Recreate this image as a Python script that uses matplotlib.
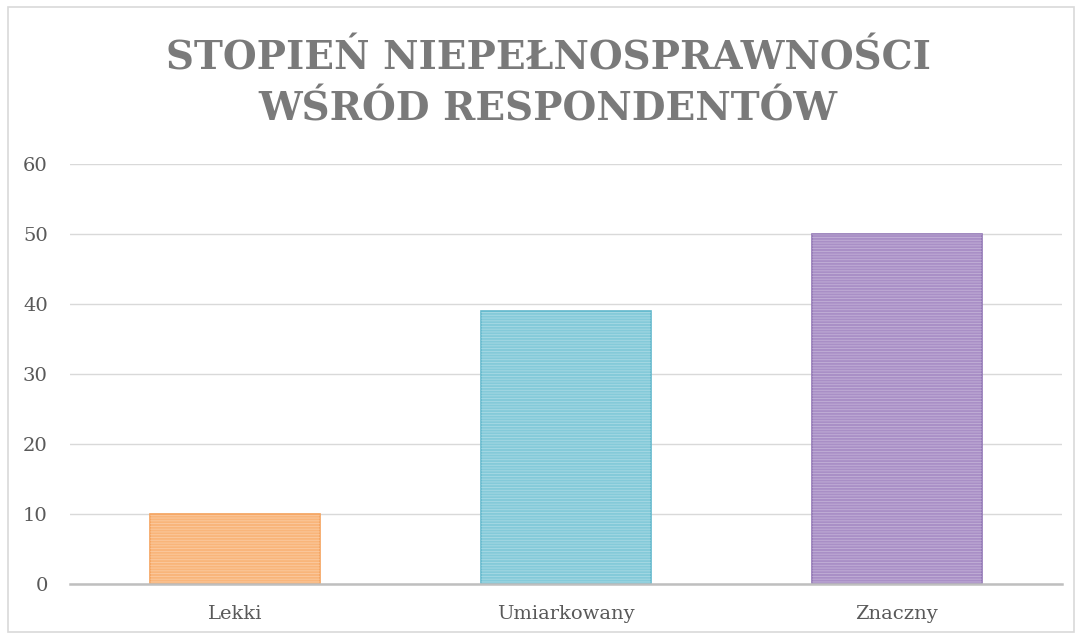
import matplotlib.pyplot as plt
import numpy as np

categories = ["Lekki", "Umiarkowany", "Znaczny"]
values = [10, 39, 50]
colors = ["#F9B57A", "#84CAD9", "#A98FC6"]
edges = ["#F5A25C", "#62B8CC", "#9176B5"]
y_ticks = [0, 10, 20, 30, 40, 50, 60]

fig = plt.figure(figsize=(10.81, 6.37), dpi=100)
ax = fig.add_axes([70 / 1081, 1 - 584 / 637, (1062 - 70) / 1081, (584 - 164) / 637])

plt.rcParams['hatch.linewidth'] = 0.6
plt.rcParams['hatch.color'] = "#ffffff"
x = np.arange(len(categories))
for i in range(len(categories)):
    ax.bar(x[i], values[i], width=0.515, color=colors[i], edgecolor=edges[i],
           linewidth=1.2, zorder=3)
    ax.bar(x[i], values[i], width=0.515, color="none", edgecolor=(1, 1, 1, 0.3),
           hatch="-" * 6, linewidth=0, zorder=4)

ax.set_xlim(-0.5, len(categories) - 0.5)
ax.set_ylim(0, 60)
ax.set_yticks(y_ticks)
ax.set_xticks(x)
ax.set_xticklabels(categories)
ax.grid(axis="y", color="#D9D9D9", linewidth=1, zorder=0)
for s in ["top", "right", "left"]:
    ax.spines[s].set_visible(False)
ax.spines["bottom"].set_color("#BFBFBF")
ax.spines["bottom"].set_linewidth(1.8)
ax.spines["bottom"].set_zorder(5)
ax.tick_params(length=0, labelsize=14, labelcolor="#595959", pad=15)
ax.tick_params(axis="y", pad=16)
for lab in ax.get_xticklabels() + ax.get_yticklabels():
    lab.set_fontfamily("DejaVu Serif")

fig.text(548 / 1081, 1 - 84 / 637, "STOPIEŃ NIEPEŁNOSPRAWNOŚCI\nWŚRÓD RESPONDENTÓW",
         ha="center", va="center", fontsize=28, fontweight="bold", color="#7A7A7A",
         family="DejaVu Serif", linespacing=1.45)

border = plt.Rectangle((8 / 1081, 5 / 637), 1066 / 1081, 625 / 637, transform=fig.transFigure,
                       fill=False, edgecolor="#D9D9D9", linewidth=1.2)
fig.patches.append(border)

plt.savefig("out.png")
